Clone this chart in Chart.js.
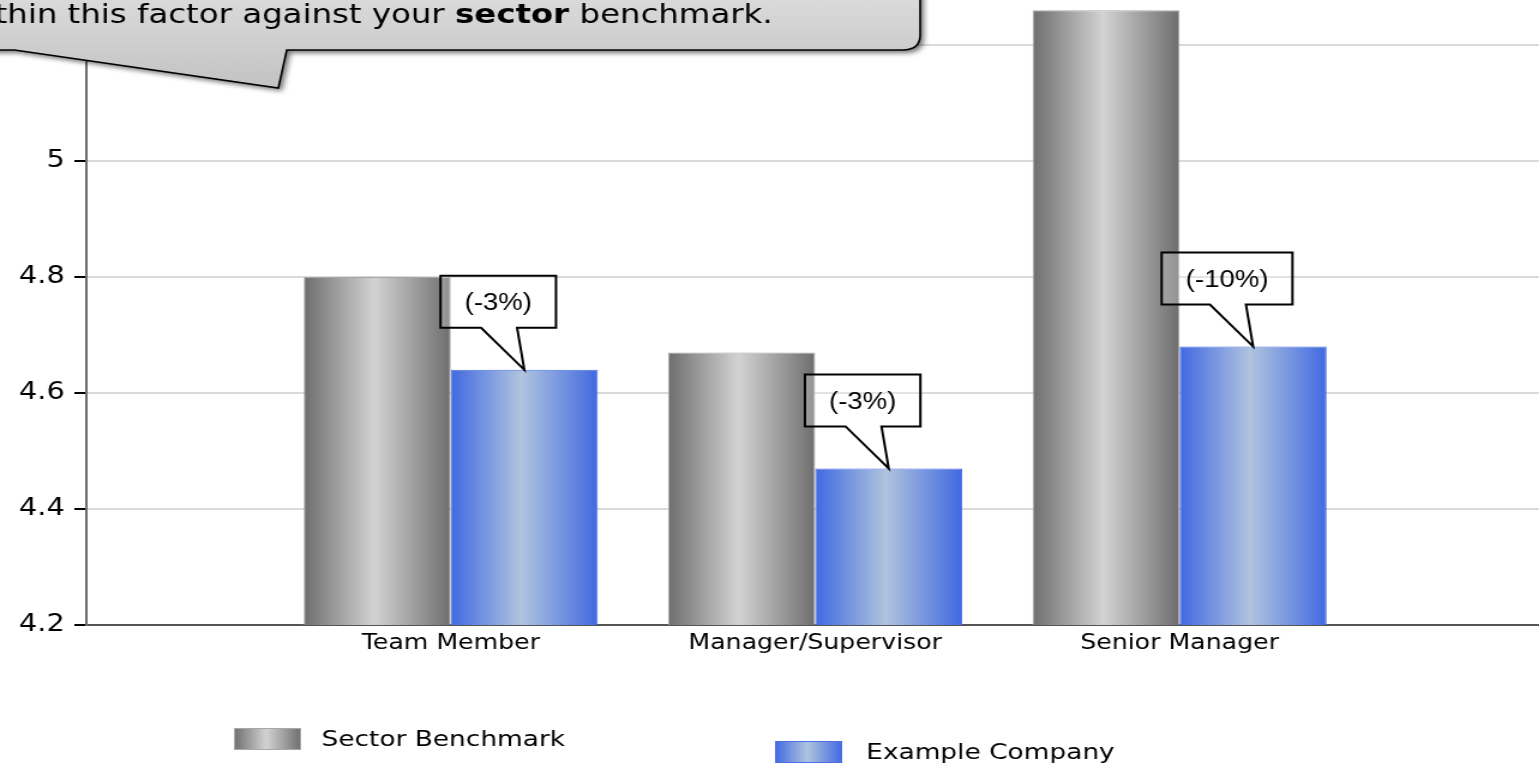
<!DOCTYPE html>
<html>
<head>
<meta charset="utf-8">
<script src="https://cdn.jsdelivr.net/npm/chart.js@4.4.0/dist/chart.umd.min.js"></script>
<style>
html,body{margin:0;padding:0;background:#fff;overflow:hidden;}
</style>
</head>
<body>
<canvas id="benchChart" width="1287" height="768" style="width:1544px;height:768px;"></canvas>
<script>
const categories = ['Team Member', 'Manager/Supervisor', 'Senior Manager'];
const sectorValues = [4.8, 4.67, 5.26];
const companyValues = [4.64, 4.47, 4.68];
const diffLabels = ['(-3%)', '(-3%)', '(-10%)'];
const yTicks = [4.2, 4.4, 4.6, 4.8, 5, 5.2];
const seriesNames = ['Sector Benchmark', 'Example Company'];

const catPct = 0.807;
const grayStops = ['#6e6e6e', '#d3d3d3'];
const blueStops = ['#4169e1', '#b0c4de'];

// padded so the categories sit one step in from the axis ends
const labels = [''].concat(categories, ['']);
const pad = arr => [null].concat(arr, [null]);

function cylinder(context, stops) {
  const chart = context.chart;
  const xs = chart.scales.x;
  if (context.type !== 'data' || !xs) return stops[0];
  const step = xs.getPixelForValue(1) - xs.getPixelForValue(0);
  const w = step * catPct / 2;
  const c = xs.getPixelForValue(context.dataIndex);
  const left = context.datasetIndex === 0 ? c - w : c;
  if (!isFinite(left) || !isFinite(w) || w <= 0) return stops[0];
  const g = chart.ctx.createLinearGradient(left, 0, left + w, 0);
  g.addColorStop(0, stops[0]);
  g.addColorStop(0.48, stops[1]);
  g.addColorStop(1, stops[0]);
  return g;
}

const calloutPlugin = {
  id: 'callouts',
  afterDatasetsDraw(chart) {
    const ctx = chart.ctx;
    const meta = chart.getDatasetMeta(1);
    ctx.save();
    ctx.font = '23px "Liberation Sans", Arial, sans-serif';
    meta.data.forEach((el, i) => {
      const txt = diffLabels[i - 1];
      if (!txt) return;
      const tx = el.x, ty = el.y;
      const w = ctx.measureText(txt).width + 40;
      const cx = tx - 21.7;
      const b = ty - 42, t = b - 52;
      const l = cx - w / 2, r = cx + w / 2;
      ctx.beginPath();
      ctx.moveTo(l, t);
      ctx.lineTo(r, t);
      ctx.lineTo(r, b);
      ctx.lineTo(tx - 6, b);
      ctx.lineTo(tx, ty);
      ctx.lineTo(tx - 36, b);
      ctx.lineTo(l, b);
      ctx.closePath();
      ctx.fillStyle = 'rgba(255,255,255,0.25)';
      ctx.fill();
      ctx.lineWidth = 2;
      ctx.strokeStyle = '#000';
      ctx.stroke();
      ctx.fillStyle = '#000';
      ctx.textAlign = 'center';
      ctx.textBaseline = 'middle';
      ctx.fillText(txt, cx, (t + b) / 2 + 2);
    });
    ctx.restore();
  },
  afterDraw(chart) {
    const ctx = chart.ctx;
    // legend
    ctx.save();
    const sw = [[195, 728, 268, 740, grayStops, '#a8a8a8'], [646, 741, 722, 753, blueStops, '#4a72e8']];
    sw.forEach((s, i) => {
      const g = ctx.createLinearGradient(s[0], 0, s[0] + 56, 0);
      g.addColorStop(0, s[4][0]);
      g.addColorStop(0.48, s[4][1]);
      g.addColorStop(1, s[4][0]);
      ctx.fillStyle = g;
      ctx.fillRect(s[0], s[1], 56, 22);
      ctx.strokeStyle = s[5];
      ctx.lineWidth = 1;
      ctx.strokeRect(s[0] + 0.5, s[1] + 0.5, 55, 21);
      ctx.fillStyle = '#000';
      ctx.font = '22px "DejaVu Sans", Verdana, sans-serif';
      ctx.textBaseline = 'middle';
      ctx.textAlign = 'left';
      ctx.fillText(seriesNames[i], s[2], s[3]);
    });
    ctx.restore();

    // big note bubble at top left
    ctx.save();
    const R = 767, B = 50, rad = 15;
    ctx.beginPath();
    ctx.moveTo(-20, -40);
    ctx.lineTo(R, -40);
    ctx.lineTo(R, B - rad);
    ctx.quadraticCurveTo(R, B, R - rad, B);
    ctx.lineTo(239, B);
    ctx.lineTo(232, 88);
    ctx.lineTo(12, B);
    ctx.lineTo(-20, B);
    ctx.closePath();
    const g = ctx.createLinearGradient(0, 0, 0, 90);
    g.addColorStop(0, '#dadada');
    g.addColorStop(1, '#c2c2c2');
    ctx.fillStyle = g;
    ctx.shadowColor = 'rgba(0,0,0,0.55)';
    ctx.shadowBlur = 5;
    ctx.shadowOffsetX = 3;
    ctx.shadowOffsetY = 3;
    ctx.fill();
    ctx.shadowColor = 'transparent';
    ctx.lineWidth = 1.6;
    ctx.strokeStyle = '#000';
    ctx.stroke();

    const parts = [['within this factor against your ', 'normal'], ['sector', 'bold'], [' benchmark.', 'normal']];
    let total = 0;
    parts.forEach(p => {
      ctx.font = p[1] + ' 27px "DejaVu Sans", Verdana, sans-serif';
      p.push(ctx.measureText(p[0]).width);
      total += p[2];
    });
    let x = 644 - total;
    ctx.fillStyle = '#000';
    ctx.textBaseline = 'alphabetic';
    ctx.textAlign = 'left';
    parts.forEach(p => {
      ctx.font = p[1] + ' 27px "DejaVu Sans", Verdana, sans-serif';
      ctx.fillText(p[0], x, 23);
      x += p[2];
    });
    ctx.restore();
  }
};

const benchChart = new Chart(document.getElementById('benchChart'), {
  type: 'bar',
  data: {
    labels: labels,
    datasets: [{
      label: seriesNames[0],
      data: pad(sectorValues),
      backgroundColor: c => cylinder(c, grayStops),
      borderColor: '#a8a8a8',
      borderWidth: 1
    }, {
      label: seriesNames[1],
      data: pad(companyValues),
      backgroundColor: c => cylinder(c, blueStops),
      borderColor: '#4a72e8',
      borderWidth: 1
    }]
  },
  options: {
    responsive: false,
    animation: false,
    layout: { padding: { top: 0, left: 0, right: 0, bottom: 103 } },
    plugins: { legend: { display: false }, tooltip: { enabled: false } },
    datasets: { bar: { categoryPercentage: catPct, barPercentage: 1 } },
    scales: {
      x: {
        offset: false,
        grid: { display: false, drawTicks: false },
        border: { color: '#555', width: 2 },
        ticks: { color: '#000', padding: 6, maxRotation: 0, autoSkip: false,
          font: { family: '"DejaVu Sans", Verdana, sans-serif', size: 21 } },
        afterFit: s => { s.height = 40; s.paddingLeft = 0; s.paddingRight = 0; }
      },
      y: {
        min: 4.2,
        max: 4.2 + 625 / 580,
        grid: { color: '#dadada', lineWidth: 2, tickColor: '#000', tickLength: 10, tickWidth: 2 },
        border: { color: '#6d6d6d', width: 2 },
        ticks: { color: '#000', padding: 8, callback: v => String(v),
          font: { family: '"DejaVu Sans", Verdana, sans-serif', size: 24 } },
        afterBuildTicks: s => { s.ticks = yTicks.map(v => ({ value: v })); },
        afterFit: s => { s.width = 72; s.paddingTop = 0; s.paddingBottom = 0; }
      }
    }
  },
  plugins: [calloutPlugin]
});
</script>
</body>
</html>
